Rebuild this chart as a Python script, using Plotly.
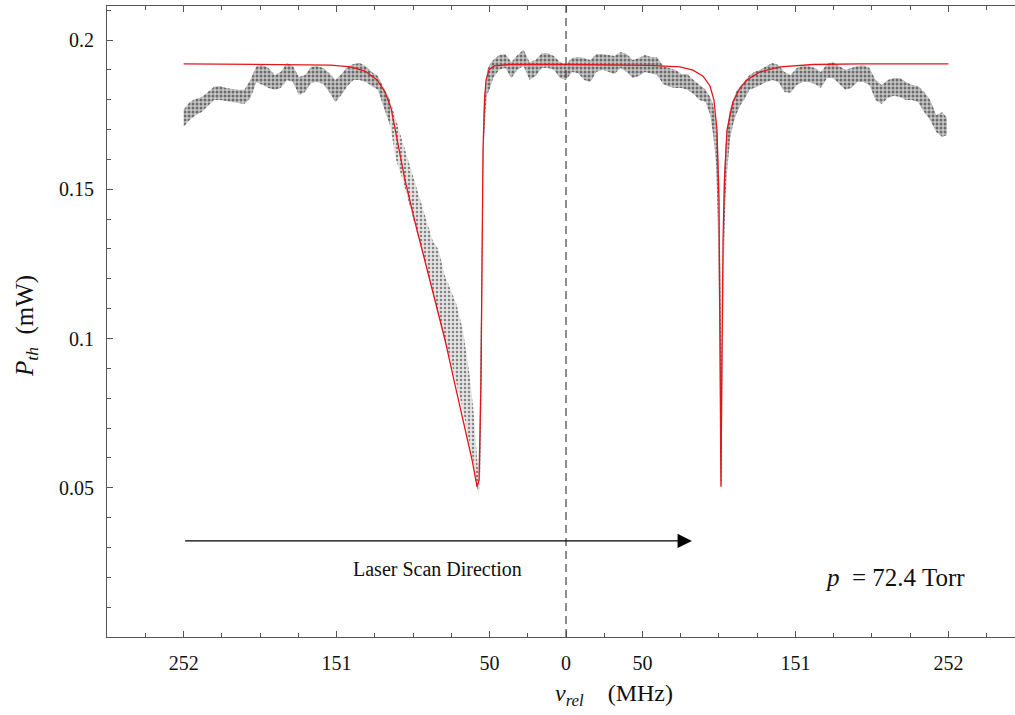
import plotly.graph_objects as go

# ---- measured data band (scatter of points): frequency (MHz) with upper/lower extent of the point cloud (mW)
FREQ = [-252, -248, -244, -240, -236, -232, -228, -224, -220, -216, -212, -208, -204, -200, -196, -192,
        -188, -184, -180, -176, -172, -168, -164, -160, -156, -152, -148, -144, -140, -136, -132, -128,
        -124, -120, -116, -112, -108, -104, -100, -96, -92, -88, -84, -80, -76, -72, -68, -64, -61, -59,
        -58, -57, -56.5, -56, -55.5, -55, -54.5, -54, -53, -52, -50, -48, -44, -40, -36, -32, -28, -24,
        -20, -16, -12, -8, -4, 0, 4, 8, 12, 16, 20, 24, 28, 32, 36, 40, 44, 48, 52, 56, 60, 64, 68, 72,
        76, 80, 84, 88, 92, 95, 97, 99, 100, 101, 101.5, 102, 102.5, 103, 103.5, 104, 105, 106, 108, 110,
        112, 115, 118, 121, 124, 128, 132, 136, 140, 144, 148, 152, 156, 160, 164, 168, 172, 176, 180, 184,
        188, 192, 196, 200, 204, 208, 212, 216, 220, 224, 228, 232, 236, 240, 244, 248, 251]
P_UPPER = [0.1766, 0.1792, 0.1802, 0.1809, 0.1826, 0.1843, 0.1846, 0.1839, 0.1836, 0.1833, 0.1833, 0.1866,
           0.1913, 0.1916, 0.1906, 0.1883, 0.1893, 0.1923, 0.1913, 0.1876, 0.1883, 0.1910, 0.1913, 0.1906,
           0.1889, 0.1866, 0.1886, 0.1910, 0.1920, 0.1923, 0.1913, 0.1893, 0.1879, 0.1839, 0.1799, 0.1732,
           0.1665, 0.1598, 0.1531, 0.1464, 0.1397, 0.1330, 0.1297, 0.1213, 0.1163, 0.1112, 0.1029, 0.0895,
           0.0761, 0.0643, 0.0560, 0.0694, 0.0928, 0.1129, 0.1397, 0.1598, 0.1732, 0.1799, 0.1866, 0.1900,
           0.1920, 0.1933, 0.1950, 0.1953, 0.1926, 0.1950, 0.1967, 0.1926, 0.1933, 0.1956, 0.1956, 0.1946,
           0.1926, 0.1920, 0.1940, 0.1943, 0.1940, 0.1933, 0.1953, 0.1953, 0.1950, 0.1946, 0.1960, 0.1953,
           0.1933, 0.1940, 0.1950, 0.1943, 0.1943, 0.1913, 0.1906, 0.1900, 0.1886, 0.1886, 0.1866, 0.1849,
           0.1833, 0.1809, 0.1782, 0.1715, 0.1665, 0.1531, 0.1297, 0.0962, 0.0861, 0.1129, 0.1363, 0.1514,
           0.1632, 0.1699, 0.1766, 0.1799, 0.1826, 0.1846, 0.1866, 0.1883, 0.1893, 0.1900, 0.1913, 0.1923,
           0.1916, 0.1893, 0.1883, 0.1906, 0.1913, 0.1913, 0.1906, 0.1893, 0.1920, 0.1926, 0.1913, 0.1900,
           0.1906, 0.1913, 0.1916, 0.1906, 0.1866, 0.1849, 0.1866, 0.1873, 0.1873, 0.1859, 0.1849, 0.1846,
           0.1826, 0.1799, 0.1749, 0.1759, 0.1739]
P_LOWER = [0.1709, 0.1732, 0.1749, 0.1759, 0.1779, 0.1799, 0.1799, 0.1796, 0.1792, 0.1789, 0.1786, 0.1806,
           0.1859, 0.1849, 0.1839, 0.1833, 0.1839, 0.1866, 0.1859, 0.1816, 0.1826, 0.1856, 0.1859, 0.1853,
           0.1826, 0.1792, 0.1816, 0.1846, 0.1866, 0.1866, 0.1859, 0.1846, 0.1833, 0.1772, 0.1715, 0.1598,
           0.1538, 0.1464, 0.1390, 0.1313, 0.1236, 0.1156, 0.1079, 0.0995, 0.0928, 0.0844, 0.0761, 0.0660,
           0.0586, 0.0509, 0.0486, 0.0493, 0.0560, 0.0727, 0.1062, 0.1297, 0.1531, 0.1665, 0.1766, 0.1816,
           0.1839, 0.1873, 0.1900, 0.1906, 0.1873, 0.1900, 0.1913, 0.1866, 0.1879, 0.1906, 0.1906, 0.1900,
           0.1873, 0.1866, 0.1893, 0.1889, 0.1866, 0.1859, 0.1893, 0.1900, 0.1893, 0.1886, 0.1906, 0.1893,
           0.1873, 0.1879, 0.1893, 0.1889, 0.1883, 0.1853, 0.1843, 0.1839, 0.1839, 0.1833, 0.1819, 0.1799,
           0.1792, 0.1749, 0.1682, 0.1581, 0.1397, 0.1029, 0.0727, 0.0526, 0.0499, 0.0727, 0.1029, 0.1263,
           0.1464, 0.1548, 0.1665, 0.1715, 0.1749, 0.1782, 0.1806, 0.1833, 0.1839, 0.1849, 0.1859, 0.1866,
           0.1859, 0.1826, 0.1823, 0.1849, 0.1859, 0.1859, 0.1853, 0.1839, 0.1873, 0.1873, 0.1853, 0.1833,
           0.1839, 0.1859, 0.1859, 0.1849, 0.1799, 0.1786, 0.1806, 0.1813, 0.1809, 0.1799, 0.1799, 0.1792,
           0.1759, 0.1732, 0.1692, 0.1675, 0.1682]

# ---- fitted curve (red)
FIT_FREQ = [-252, -175, -155, -142, -132.5, -124.5, -119.3, -115.3, -111.4, -106.1, -99.5, -92.9, -86.3,
            -79.7, -73.1, -66.6, -61.9, -58.6, -57.3, -56.0, -55.4, -54.7, -53.7, -52.7, -50.7, -47.4,
            -36.9, 0, 55.4, 75.1, 83.7, 90.3, 94.9, 97.5, 99.5, 100.8, 101.5, 102.1, 102.8, 103.5, 104.4,
            106.1, 110.0, 114.7, 119.3, 127.8, 141.0, 162.8, 193.7, 252]
FIT_P = [0.1920, 0.1918, 0.1916, 0.1910, 0.1896, 0.1866, 0.1826, 0.1772, 0.1665, 0.1531, 0.1390, 0.1256,
         0.1129, 0.0995, 0.0844, 0.0700, 0.0593, 0.0503, 0.0526, 0.0861, 0.1296, 0.1631, 0.1799, 0.1866,
         0.1900, 0.1913, 0.1918, 0.1918, 0.1915, 0.1910, 0.1899, 0.1879, 0.1846, 0.1799, 0.1698, 0.1464,
         0.0961, 0.0503, 0.0961, 0.1330, 0.1531, 0.1698, 0.1792, 0.1839, 0.1866, 0.1893, 0.1910, 0.1918,
         0.1920, 0.1920]

# frequency span where the point cloud is sparse (steep side of the first dip)
SPARSE_SPAN = (-116, -57)

# ---- axes ticks
X_TICKS = [-252, -151.2, -50.4, 0, 50.4, 151.2, 252]
X_TICK_TEXT = ["252", "151", "50", "0", "50", "151", "252"]
X_MINOR = [-277.2, -226.8, -201.6, -176.4, -126, -100.8, -75.6, -25.2, 25.2, 75.6, 100.8, 126,
           176.4, 201.6, 226.8, 277.2]
Y_TICKS = [0.05, 0.1, 0.15, 0.2]
Y_TICK_TEXT = ["0.05", "0.1", "0.15", "0.2"]
Y_MINOR = [0.01, 0.02, 0.03, 0.04, 0.06, 0.07, 0.08, 0.09, 0.11, 0.12, 0.13, 0.14, 0.16, 0.17, 0.18, 0.19, 0.21]

FONT = "Liberation Serif"
AX = "#555555"


def band(xs, lo, hi, fill, dot, solidity):
    fig.add_trace(go.Scatter(x=xs, y=lo, mode="lines", line=dict(width=0, color="rgba(0,0,0,0)"),
                             showlegend=False, hoverinfo="skip"))
    fig.add_trace(go.Scatter(x=xs, y=hi, mode="lines", line=dict(width=0, color="rgba(0,0,0,0)"),
                             fill="tonexty", fillcolor=fill,
                             fillpattern=dict(shape=".", fgcolor=dot, size=4, solidity=solidity,
                                              fillmode="overlay"),
                             showlegend=False))


fig = go.Figure()
a, b = SPARSE_SPAN
seg_left = [i for i, f in enumerate(FREQ) if f <= a]
seg_mid = [i for i, f in enumerate(FREQ) if a <= f <= b]
seg_right = [i for i, f in enumerate(FREQ) if f >= b]
for seg, fill, dot, sol in [(seg_left, "rgba(70,70,70,0.30)", "#111111", 0.45),
                            (seg_mid, "rgba(90,90,90,0.16)", "#222222", 0.32),
                            (seg_right, "rgba(70,70,70,0.30)", "#111111", 0.45)]:
    band([FREQ[i] for i in seg], [P_LOWER[i] for i in seg], [P_UPPER[i] for i in seg], fill, dot, sol)

fig.add_trace(go.Scatter(x=FIT_FREQ, y=FIT_P, mode="lines", line=dict(color="#e3161c", width=1.3),
                         showlegend=False))

fig.add_shape(type="line", xref="x", yref="paper", x0=0, x1=0, y0=0, y1=1,
              line=dict(color="#444444", width=1.2, dash="8px,5px"))

fig.add_annotation(x=83, y=0.0322, ax=-252, ay=0.0322, xref="x", yref="y", axref="x", ayref="y",
                   text="", showarrow=True, arrowhead=2, arrowsize=2.4, arrowwidth=1.2, arrowcolor="black")
fig.add_annotation(x=-85, y=0.0228, xref="x", yref="y", text="Laser Scan Direction", showarrow=False,
                   font=dict(family=FONT, size=20, color="#111"))
fig.add_annotation(x=169.4, y=0.0198, xref="x", yref="y", xanchor="left",
                   text="<i>p</i>&nbsp;&nbsp;= 72.4 Torr", showarrow=False,
                   font=dict(family=FONT, size=25, color="#111"))
fig.add_annotation(x=0.558, y=-0.092, xref="paper", yref="paper", xanchor="center", yanchor="middle",
                   showarrow=False,
                   text="<i>ν</i><sub><i>rel</i></sub>&nbsp;&nbsp;&nbsp;&nbsp;(MHz)",
                   font=dict(family=FONT, size=24, color="#111"))
fig.add_annotation(x=-0.088, y=0.493, xref="paper", yref="paper", xanchor="center", yanchor="middle",
                   showarrow=False, textangle=-90,
                   text="<i>P</i><sub><i>th</i></sub>&nbsp;&nbsp;(mW)",
                   font=dict(family=FONT, size=25, color="#111"))

fig.update_xaxes(range=[-302.5, 295.9], showgrid=False, zeroline=False, showline=True, linecolor=AX,
                 linewidth=1, mirror="ticks", ticks="inside", ticklen=6, tickcolor=AX, tickwidth=1,
                 tickmode="array", tickvals=X_TICKS, ticktext=X_TICK_TEXT, ticklabelstandoff=8,
                 tickfont=dict(family=FONT, size=20, color="#111"),
                 minor=dict(tickmode="array", tickvals=X_MINOR, ticks="inside", ticklen=4,
                            tickcolor=AX, tickwidth=1, showgrid=False))
fig.update_yaxes(range=[0, 0.21139], showgrid=False, zeroline=False, showline=True, linecolor=AX,
                 linewidth=1, mirror=False, ticks="inside", ticklen=6, tickcolor=AX, tickwidth=1,
                 tickmode="array", tickvals=Y_TICKS, ticktext=Y_TICK_TEXT, ticklabelstandoff=8,
                 tickfont=dict(family=FONT, size=20, color="#111"),
                 minor=dict(tickmode="array", tickvals=Y_MINOR, ticks="inside", ticklen=4,
                            tickcolor=AX, tickwidth=1, showgrid=False))

fig.update_layout(width=1015, height=715, margin=dict(l=107, r=0, t=6, b=78),
                  paper_bgcolor="white", plot_bgcolor="white", showlegend=False)

fig.write_html("out.html")
